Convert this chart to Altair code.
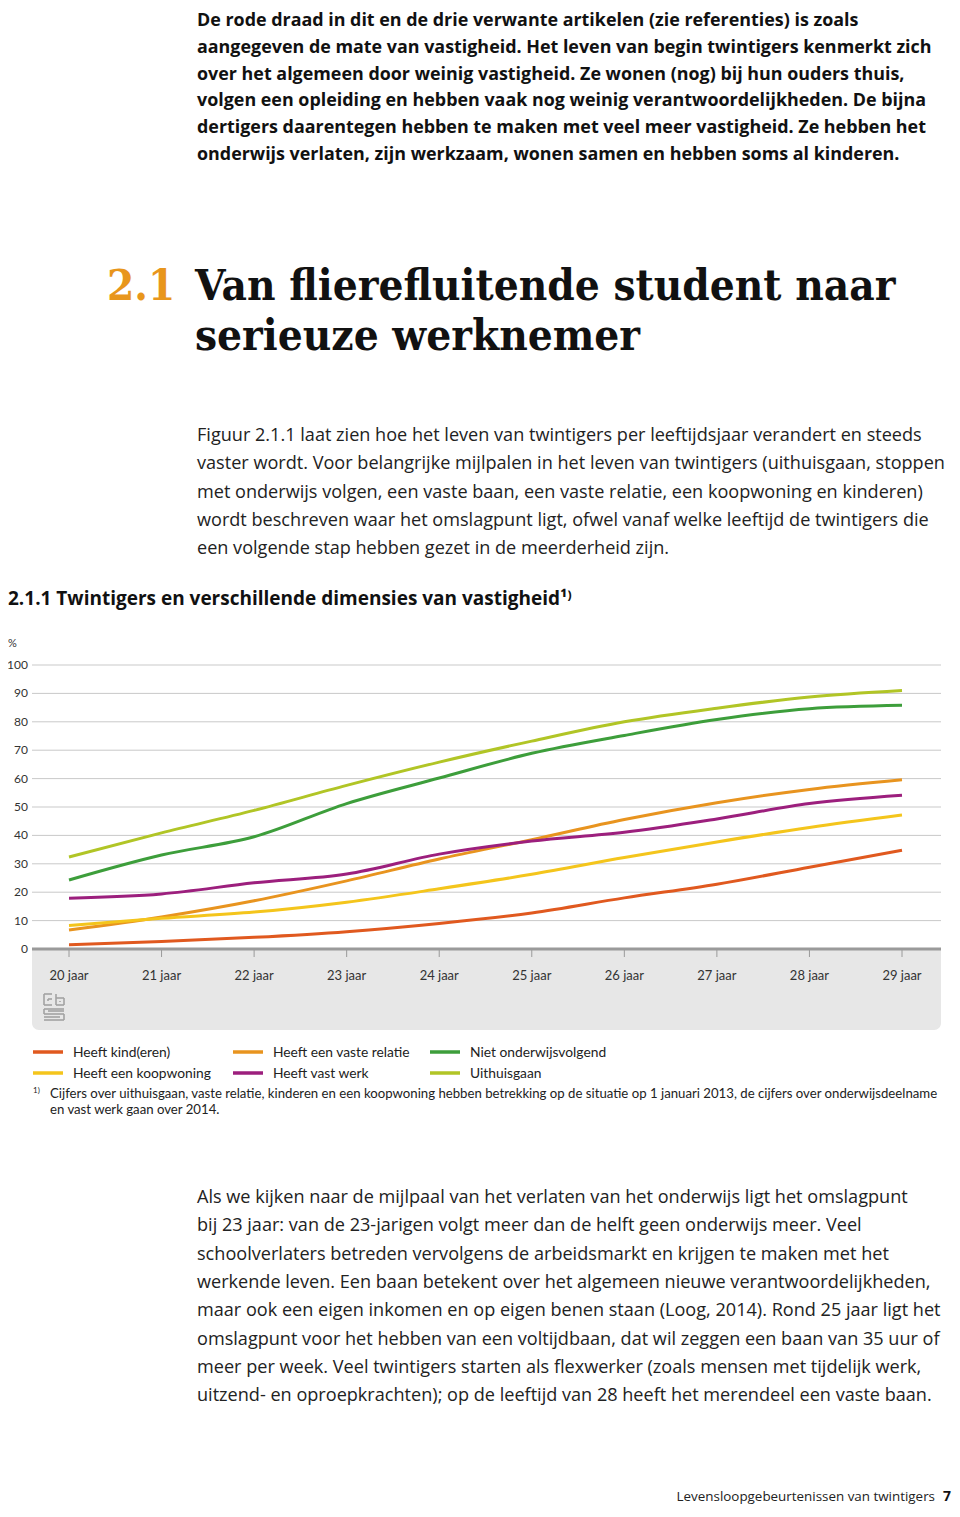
import altair as alt
import pandas as pd

# ---------------- data ----------------
AGES = [20, 21, 22, 23, 24, 25, 26, 27, 28, 29]
AGE_LABELS = [f"{a} jaar" for a in AGES]
SERIES = ["Heeft kind(eren)", "Heeft een vaste relatie", "Niet onderwijsvolgend",
          "Heeft een koopwoning", "Heeft vast werk", "Uithuisgaan"]
COLORS = ["#e0591f", "#e8941f", "#3d9e3b", "#f4c51c", "#9c1f7d", "#b1c526"]

kind = [1.5, 2.6, 4.1, 6.1, 9.0, 12.7, 18.0, 22.8, 28.8, 34.8]
relatie = [6.7, 11.3, 17.0, 24.0, 31.7, 38.5, 45.6, 51.5, 56.2, 59.6]
onderwijs = [24.3, 33.1, 39.5, 51.2, 60.2, 68.9, 75.2, 80.8, 84.6, 85.8]
koopwoning = [8.3, 10.8, 13.0, 16.5, 21.2, 26.3, 32.2, 37.7, 42.8, 47.2]
vastwerk = [17.9, 19.4, 23.3, 26.4, 33.4, 38.0, 41.1, 45.8, 51.2, 54.1]
uithuis = [32.4, 40.9, 48.8, 57.6, 65.8, 73.2, 80.0, 84.8, 88.7, 91.0]
VALUES = [kind, relatie, onderwijs, koopwoning, vastwerk, uithuis]

Y_TICKS = [0, 10, 20, 30, 40, 50, 60, 70, 80, 90, 100]
GRID = [10, 20, 30, 40, 50, 60, 70, 80, 90, 100]

PARA1 = [
    "De rode draad in dit en de drie verwante artikelen (zie referenties) is zoals",
    "aangegeven de mate van vastigheid. Het leven van begin twintigers kenmerkt zich",
    "over het algemeen door weinig vastigheid. Ze wonen (nog) bij hun ouders thuis,",
    "volgen een opleiding en hebben vaak nog weinig verantwoordelijkheden. De bijna",
    "dertigers daarentegen hebben te maken met veel meer vastigheid. Ze hebben het",
    "onderwijs verlaten, zijn werkzaam, wonen samen en hebben soms al kinderen.",
]
HEAD_NUM = "2.1"
HEAD = ["Van flierefluitende student naar", "serieuze werknemer"]
PARA2 = [
    "Figuur 2.1.1 laat zien hoe het leven van twintigers per leeftijdsjaar verandert en steeds",
    "vaster wordt. Voor belangrijke mijlpalen in het leven van twintigers (uithuisgaan, stoppen",
    "met onderwijs volgen, een vaste baan, een vaste relatie, een koopwoning en kinderen)",
    "wordt beschreven waar het omslagpunt ligt, ofwel vanaf welke leeftijd de twintigers die",
    "een volgende stap hebben gezet in de meerderheid zijn.",
]
CHART_TITLE = "2.1.1  Twintigers en verschillende dimensies van vastigheid\u00b9\u207e"
FOOTNOTE = [
    "Cijfers over uithuisgaan, vaste relatie, kinderen en een koopwoning hebben betrekking op de situatie op 1 januari 2013, de cijfers over onderwijsdeelname",
    "en vast werk gaan over 2014.",
]
PARA3 = [
    "Als we kijken naar de mijlpaal van het verlaten van het onderwijs ligt het omslagpunt",
    "bij 23 jaar: van de 23-jarigen volgt meer dan de helft geen onderwijs meer. Veel",
    "schoolverlaters betreden vervolgens de arbeidsmarkt en krijgen te maken met het",
    "werkende leven. Een baan betekent over het algemeen nieuwe verantwoordelijkheden,",
    "maar ook een eigen inkomen en op eigen benen staan (Loog, 2014). Rond 25 jaar ligt het",
    "omslagpunt voor het hebben van een voltijdbaan, dat wil zeggen een baan van 35 uur of",
    "meer per week. Veel twintigers starten als flexwerker (zoals mensen met tijdelijk werk,",
    "uitzend- en oproepkrachten); op de leeftijd van 28 heeft het merendeel een vaste baan.",
]
FOOTER = "Levensloopgebeurtenissen van twintigers"
PAGE_NO = "7"

# ---------------- tables ----------------
rows = []
for name, vals in zip(SERIES, VALUES):
    for a, v in zip(AGES, vals):
        rows.append({"series": name, "age": a, "pct": v})
df = pd.DataFrame(rows)
grid_df = pd.DataFrame({"v": GRID})
ytick_df = pd.DataFrame({"v": Y_TICKS, "label": [str(t) for t in Y_TICKS]})
xtick_df = pd.DataFrame({"age": AGES, "label": AGE_LABELS})
dummy = pd.DataFrame({"d": [0]})

BODY = "Open Sans"
CHARTF = "Lato"
SLAB = "DejaVu Serif Condensed, DejaVu Serif"
M = 8  # page margin offset


def px(x):
    return x - M


X_SCALE = alt.Scale(domain=[20, 29], range=[px(69), px(902)])
Y_SCALE = alt.Scale(domain=[0, 100], range=[px(949), px(665)])


def text(lines, x, y, size, weight="normal", color="#1a1a1a", font=BODY,
         align="left", lh=None):
    kw = dict(text=lines, align=align, baseline="alphabetic", font=font,
              fontSize=size, fontWeight=weight, color=color)
    if lh is not None:
        kw["lineHeight"] = lh
    return alt.Chart(dummy).mark_text(**kw).encode(
        x=alt.value(px(x)), y=alt.value(px(y)))


layers = []

# gray band under the x axis
layers.append(alt.Chart(dummy).mark_rect(
    color="#e7e7e7", cornerRadiusBottomLeft=7, cornerRadiusBottomRight=7
).encode(x=alt.value(px(32)), x2=alt.value(px(941)),
         y=alt.value(px(949)), y2=alt.value(px(1030))))

# gridlines
layers.append(alt.Chart(grid_df).mark_rule(color="#c9c9c9", strokeWidth=1).encode(
    y=alt.Y("v:Q", scale=Y_SCALE, axis=None),
    x=alt.value(px(32)), x2=alt.value(px(941))))

# zero line
layers.append(alt.Chart(dummy).transform_calculate(v="0").mark_rule(
    color="#9a9a9a", strokeWidth=3).encode(
    y=alt.Y("v:Q", scale=Y_SCALE, axis=None),
    x=alt.value(px(32)), x2=alt.value(px(941))))

# x ticks
layers.append(alt.Chart(xtick_df).mark_rule(color="#9a9a9a", strokeWidth=1).encode(
    x=alt.X("age:Q", scale=X_SCALE, axis=None),
    y=alt.value(px(950)), y2=alt.value(px(957))))

# x labels
layers.append(alt.Chart(xtick_df).mark_text(
    font=CHARTF, fontSize=13, color="#333333", baseline="alphabetic").encode(
    x=alt.X("age:Q", scale=X_SCALE, axis=None),
    y=alt.value(px(980)), text="label:N"))

# y labels
layers.append(alt.Chart(ytick_df).mark_text(
    font=CHARTF, fontSize=12, color="#333333", align="right", baseline="middle").encode(
    y=alt.Y("v:Q", scale=Y_SCALE, axis=None),
    x=alt.value(px(28)), text="label:N"))
layers.append(text("%", 8, 647, 11, color="#333333", font=CHARTF))

# cbs logo (simplified)
logo = [
    (44, 52, 994, 994), (44, 44, 994, 1005), (44, 52, 1005, 1005), (48, 52, 999, 999),
    (48, 48, 999, 1001), (56, 56, 994, 1005), (56, 64, 1005, 1005), (64, 64, 998, 1005),
    (56, 64, 998, 998), (60, 60, 1001, 1002),
    (44, 64, 1009, 1009), (44, 44, 1009, 1014), (44, 64, 1014, 1014), (64, 64, 1014, 1020),
    (44, 64, 1020, 1020), (48, 64, 1011, 1011), (44, 60, 1017, 1017),
]
for (xa, xb, ya, yb) in logo:
    layers.append(alt.Chart(dummy).mark_rule(color="#a3a3a3", strokeWidth=1.6).encode(
        x=alt.value(px(xa)), x2=alt.value(px(xb)), y=alt.value(px(ya)), y2=alt.value(px(yb))))

# series lines
layers.append(alt.Chart(df).mark_line(interpolate="monotone", strokeWidth=3).encode(
    x=alt.X("age:Q", scale=X_SCALE, axis=None),
    y=alt.Y("pct:Q", scale=Y_SCALE, axis=None),
    color=alt.Color("series:N", scale=alt.Scale(domain=SERIES, range=COLORS), legend=None),
    order="age:Q"))

# manual legend (3 columns x 2 rows)
col_x = [33, 233, 430]
row_y = [1052, 1073]
for i, (name, c) in enumerate(zip(SERIES, COLORS)):
    cx = col_x[i % 3]
    ry = row_y[i // 3]
    layers.append(alt.Chart(dummy).mark_rule(color=c, strokeWidth=3.5).encode(
        x=alt.value(px(cx)), x2=alt.value(px(cx + 30)), y=alt.value(px(ry))))
    layers.append(text(name, cx + 40, ry + 4.5, 13.8, color="#222222", font=CHARTF))

# footnote
layers.append(text("1)", 33, 1093, 8, color="#222222", font=CHARTF))
layers.append(text(FOOTNOTE, 50, 1098, 13.2, color="#222222", lh=16, font=CHARTF))

# page texts
layers.append(text(PARA1, 197, 26, 17.9, weight="bold", color="#111111", lh=26.8))
layers.append(text(HEAD_NUM, 107, 300, 43.7, weight="bold", color="#e8961c", font=SLAB))
layers.append(text(HEAD, 195, 300, 43.7, weight="bold", color="#111111", font=SLAB, lh=50))
layers.append(text(PARA2, 197, 441, 18.1, color="#222222", lh=28.3))
layers.append(text(CHART_TITLE, 8, 605, 19, weight="bold", color="#111111"))
layers.append(text(PARA3, 197, 1203, 18.1, color="#222222", lh=28.3))
layers.append(text(FOOTER, 935, 1501, 13.4, color="#222222", align="right"))
layers.append(text(PAGE_NO, 951, 1501, 14, weight="bold", color="#111111", align="right"))

chart = alt.layer(*layers).properties(
    width=944, height=1497, padding=0,
    autosize=alt.AutoSizeParams(type="none"),
).configure_view(stroke=None)

chart.save("out.html", embed_options={"renderer": "svg", "actions": False})
